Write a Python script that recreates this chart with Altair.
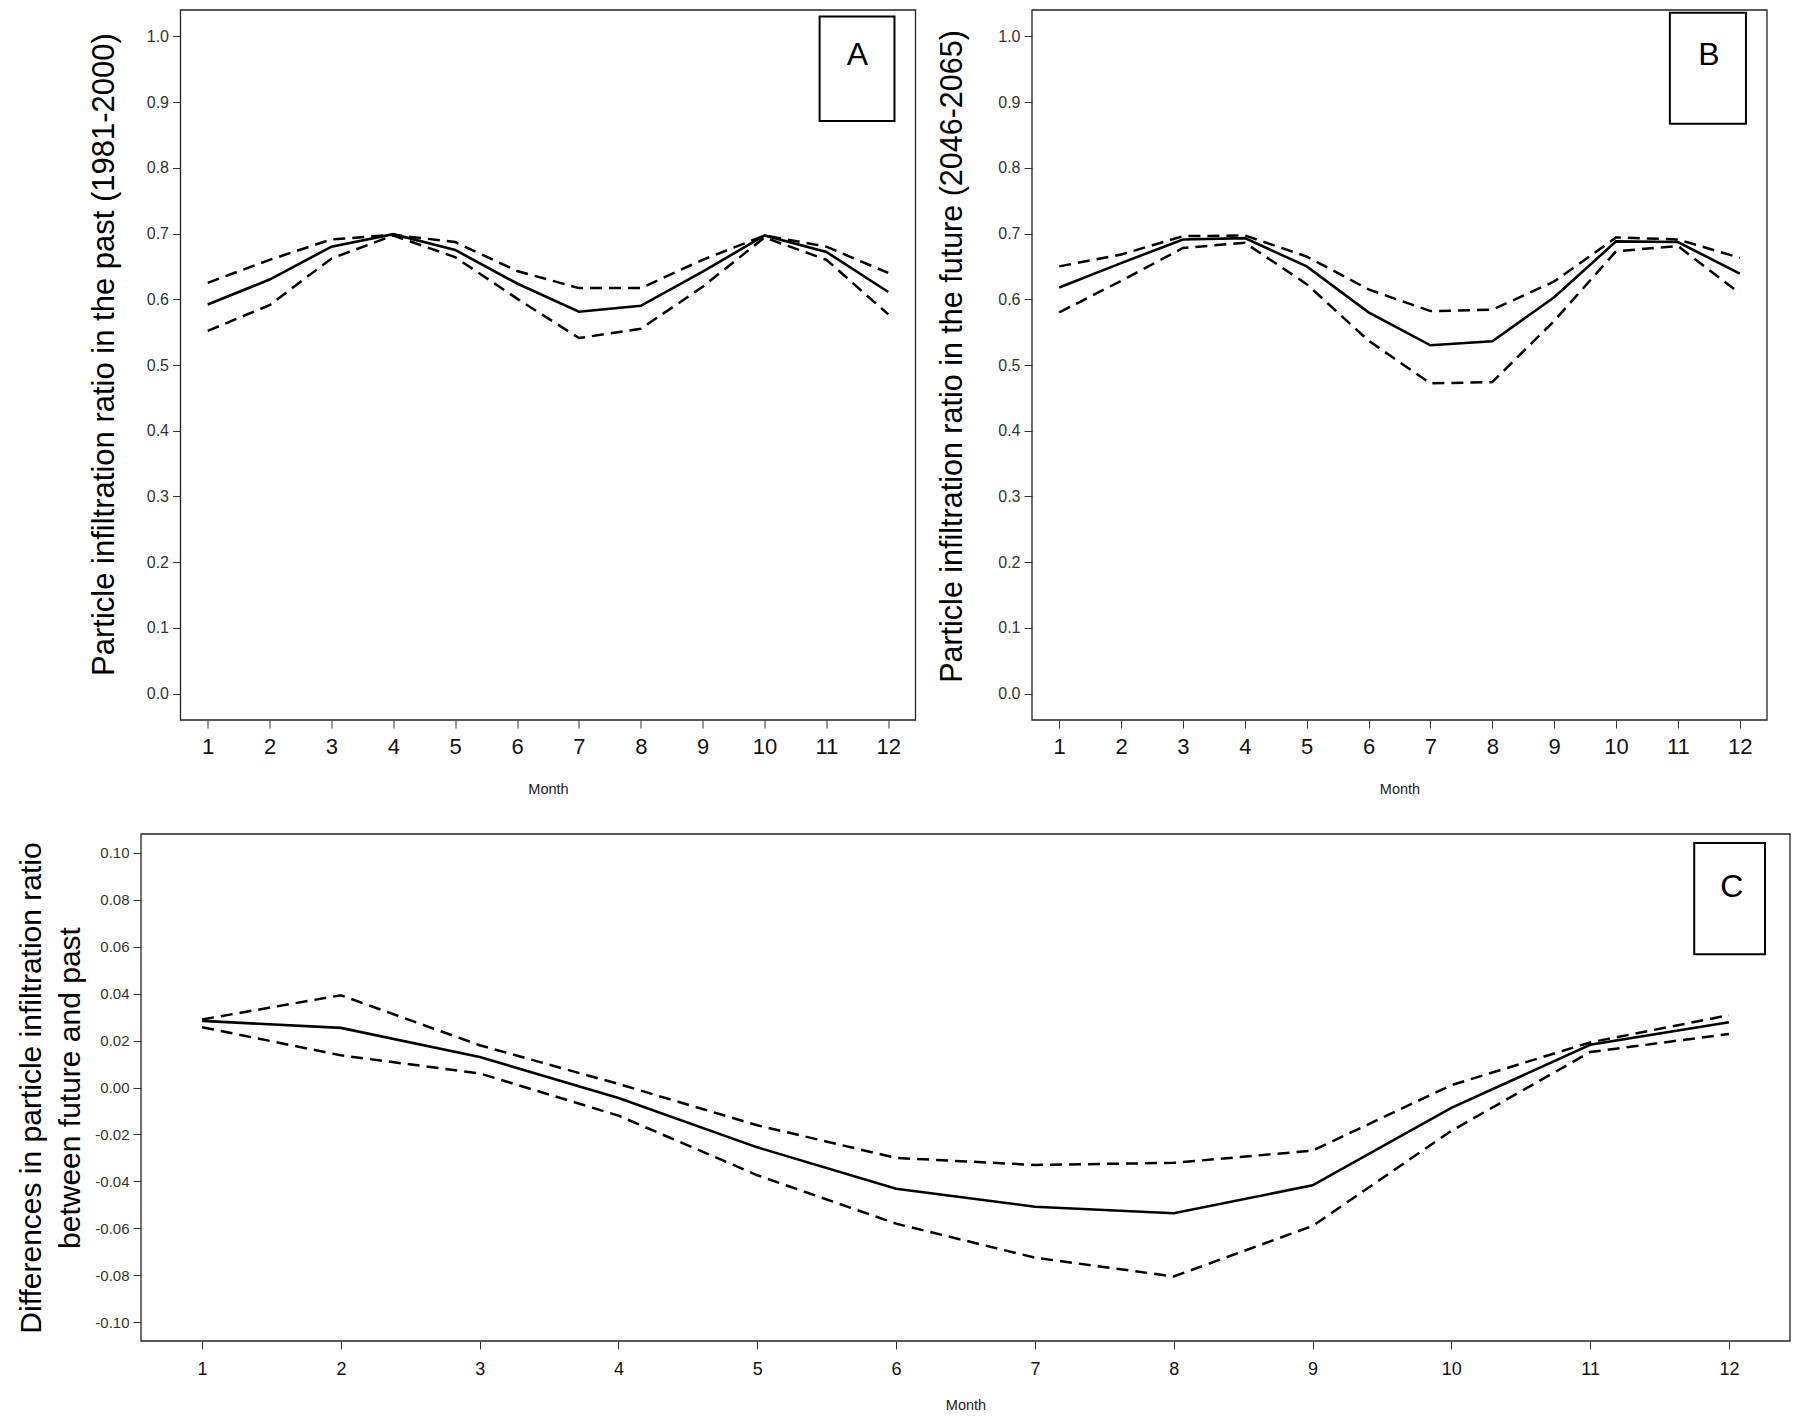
import altair as alt
import pandas as pd

FONT = "Liberation Sans"

months = list(range(1, 13))

# Panel A: past (1981-2000)
past_mean = [0.592, 0.630, 0.680, 0.699, 0.675, 0.624, 0.581, 0.590, 0.642, 0.697, 0.672, 0.611]
past_upper = [0.625, 0.660, 0.691, 0.698, 0.687, 0.643, 0.617, 0.617, 0.660, 0.697, 0.680, 0.640]
past_lower = [0.552, 0.591, 0.662, 0.697, 0.664, 0.601, 0.541, 0.555, 0.619, 0.694, 0.660, 0.577]

# Panel B: future (2046-2065)
future_mean = [0.618, 0.655, 0.691, 0.693, 0.650, 0.580, 0.530, 0.536, 0.603, 0.688, 0.687, 0.639]
future_upper = [0.650, 0.668, 0.696, 0.697, 0.665, 0.615, 0.582, 0.584, 0.627, 0.694, 0.691, 0.663]
future_lower = [0.580, 0.628, 0.678, 0.686, 0.623, 0.537, 0.472, 0.474, 0.567, 0.673, 0.681, 0.609]

# Panel C: differences future - past
diff_mean = [0.0284, 0.0254, 0.0130, -0.0045, -0.0255, -0.0431, -0.0508, -0.0536, -0.0417, -0.0087, 0.0182, 0.0278]
diff_upper = [0.0290, 0.0393, 0.0180, 0.0015, -0.0161, -0.0300, -0.0330, -0.0321, -0.0269, 0.0010, 0.0192, 0.0308]
diff_lower = [0.0257, 0.0137, 0.0060, -0.0120, -0.0374, -0.0580, -0.0725, -0.0805, -0.0590, -0.0185, 0.0151, 0.0228]

ratio_ticks = [0.0, 0.1, 0.2, 0.3, 0.4, 0.5, 0.6, 0.7, 0.8, 0.9, 1.0]
diff_ticks = [-0.10, -0.08, -0.06, -0.04, -0.02, 0.0, 0.02, 0.04, 0.06, 0.08, 0.10]

title_a = "Particle infiltration ratio in the past (1981-2000)"
title_b = "Particle infiltration ratio in the future (2046-2065)"
title_c = ["Differences in particle infiltration ratio", "between future and past"]

# panel label boxes (data units): x0, x1, y0, y1, label x, label y
box_a = [10.89, 12.10, 0.871, 1.030, 11.50, 0.971]
box_b = [10.87, 12.10, 0.867, 1.036, 11.50, 0.972]
box_c = [11.75, 12.26, 0.0568, 0.1042, 12.02, 0.0856]

X_DOMAIN = [0.56, 12.44]


def panel(mean, upper, lower, ytitle, letter, box, w, h, ydomain, yvalues, yfmt,
          ytitle_x, ytitle_dy, ytitle_size, xlabel_size, ylabel_size, month_y, xlabel_pad,
          title_lh=None):
    df = pd.DataFrame({
        "month": months * 3,
        "value": mean + upper + lower,
        "series": ["mean"] * 12 + ["upper"] * 12 + ["lower"] * 12,
    })
    xs = alt.Scale(domain=X_DOMAIN, nice=False, zero=False)
    ys = alt.Scale(domain=ydomain, nice=False, zero=False)
    xaxis = alt.Axis(values=months, format="d", title="Month", domain=False, grid=False,
                     tickSize=8, tickColor="#333", labelFontSize=xlabel_size, labelColor="#111",
                     labelPadding=xlabel_pad, labelFont=FONT, titleFont=FONT, titleFontSize=14.5,
                     titleFontWeight="normal", titleColor="#222", titleY=month_y,
                     titleBaseline="middle")
    yargs = dict(values=yvalues, title=ytitle, domain=False, grid=False, tickSize=8,
                 tickColor="#333", labelFontSize=ylabel_size, labelColor="#333",
                 labelPadding=4, labelFont=FONT, titleFont=FONT, titleFontSize=ytitle_size,
                 titleFontWeight="normal", titleColor="#000", titleX=ytitle_x,
                 titleY=h / 2 + ytitle_dy,
                 titleAngle=-90, titleAlign="center", titleBaseline="middle",
                 labelExpr="replace(format(datum.value, '" + yfmt + "'), '\u2212', '-')")
    if title_lh is not None:
        yargs["titleLineHeight"] = title_lh
    yaxis = alt.Axis(**yargs)
    base = alt.Chart(df).encode(
        x=alt.X("month:Q", scale=xs, axis=xaxis),
        y=alt.Y("value:Q", scale=ys, axis=yaxis),
    )
    solid = base.transform_filter("datum.series == 'mean'").mark_line(
        color="black", strokeWidth=2.6)
    dashed = base.transform_filter("datum.series != 'mean'").mark_line(
        color="black", strokeWidth=2.5, strokeDash=[12, 7]).encode(detail="series:N")
    fdf = pd.DataFrame({"fx0": [X_DOMAIN[0]], "fx1": [X_DOMAIN[1]],
                        "fy0": [ydomain[0]], "fy1": [ydomain[1]]})
    frame = alt.Chart(fdf).mark_rect(
        fill="white", fillOpacity=0, stroke="#222", strokeWidth=1.3).encode(
        x=alt.X("fx0:Q", scale=xs, axis=xaxis), x2="fx1:Q",
        y=alt.Y("fy0:Q", scale=ys, axis=yaxis), y2="fy1:Q")
    bdf = pd.DataFrame({"x0": [box[0]], "x1": [box[1]], "y0": [box[2]], "y1": [box[3]],
                        "lx": [box[4]], "ly": [box[5]], "t": [letter]})
    boxl = alt.Chart(bdf).mark_rect(fill="white", stroke="black", strokeWidth=2).encode(
        x=alt.X("x0:Q", scale=xs, axis=xaxis), x2="x1:Q",
        y=alt.Y("y0:Q", scale=ys, axis=yaxis), y2="y1:Q")
    text = alt.Chart(bdf).mark_text(font=FONT, fontSize=32, color="black",
                                    baseline="middle", align="center").encode(
        x=alt.X("lx:Q", scale=xs, axis=xaxis), y=alt.Y("ly:Q", scale=ys, axis=yaxis),
        text="t:N")
    return alt.layer(dashed, solid, boxl, text, frame).properties(width=w, height=h)


def spacer(w, h):
    return alt.Chart(pd.DataFrame({"v": [0]})).mark_point(opacity=0).encode(
        x=alt.X("v:Q", axis=None), y=alt.Y("v:Q", axis=None)).properties(width=w, height=h)


A = panel(past_mean, past_upper, past_lower, title_a, "A", box_a, 735, 710,
          [-0.04, 1.04], ratio_ticks, ".1f", -76.5, -11, 31, 22, 16, 69, 8)
B = panel(future_mean, future_upper, future_lower, title_b, "B", box_b, 735, 710,
          [-0.04, 1.04], ratio_ticks, ".1f", -80, -9, 30.5, 22, 16, 69, 8)
C = panel(diff_mean, diff_upper, diff_lower, title_c, "C", box_c, 1649, 507,
          [-0.108, 0.108], diff_ticks, ".2f", -110, 0, 30, 18, 15, 64, 11, title_lh=39)

top = alt.hconcat(spacer(57, 20), A, B, spacing=18.5)
bottom = alt.hconcat(spacer(1, 1), C, spacing=0)
chart = alt.vconcat(top, bottom, spacing=35, padding=0).configure(font=FONT).configure_view(
    stroke="transparent")

chart.save("out.html", embed_options={"renderer": "svg", "actions": False})
